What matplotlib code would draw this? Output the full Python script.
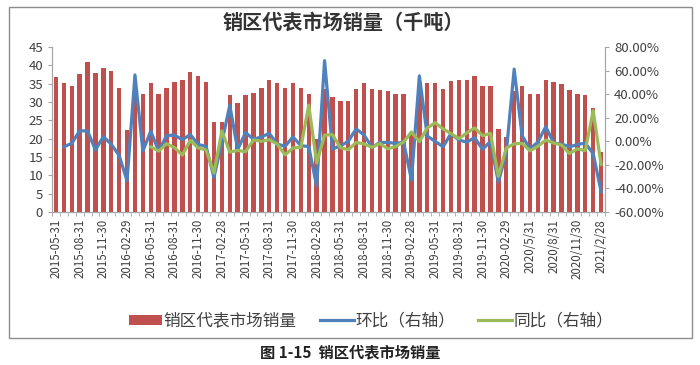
import matplotlib
matplotlib.use("Agg")
import matplotlib.pyplot as plt
from matplotlib.patches import Rectangle
import numpy as np

plt.rcParams['font.family'] = ['Noto Sans CJK SC', 'DejaVu Sans']

# monthly, 2015-05 .. 2021-02 (70 months)
months = ([f"2015-{m:02d}" for m in range(5, 13)]
          + [f"{y}-{m:02d}" for y in range(2016, 2021) for m in range(1, 13)]
          + ["2021-01", "2021-02"])

sales = [36.8, 35.1, 34.5, 37.6, 40.9, 37.9, 39.4, 38.4, 33.8, 22.5,
         35.2, 32.3, 35.1, 32.2, 33.8, 35.6, 36.1, 38.2, 37.2, 35.6,
         24.7, 24.5, 32.0, 29.8, 32.0, 32.6, 33.8, 36.1, 35.3, 33.8,
         35.1, 33.8, 32.3, 20.0, 33.7, 31.5, 30.3, 30.3, 33.5, 35.3,
         33.5, 33.2, 32.9, 32.3, 32.1, 21.6, 33.6, 35.1, 35.1, 33.5,
         35.7, 36.1, 35.9, 37.0, 34.5, 34.5, 22.6, 20.4, 32.9, 34.5,
         32.3, 32.1, 36.1, 35.6, 34.8, 33.2, 32.3, 31.8, 28.5, 16.4]

# month-on-month, % (right axis), starts 2015-06
mom = [None, -4.6, -1.7, 9.0, 8.8, -7.3, 4.0, -2.5, -12.0, -33.4,
       56.4, -8.2, 8.7, -8.3, 5.0, 5.3, 1.4, 5.8, -2.6, -4.3,
       -30.6, -0.8, 30.6, -6.9, 7.4, 1.9, 3.7, 6.8, -2.2, -4.2,
       3.8, -3.7, -4.4, -38.1, 68.5, -6.5, -3.8, 0.0, 10.6, 5.4,
       -5.1, -0.9, -0.9, -1.8, -0.6, -32.7, 55.6, 4.5, 0.0, -4.6,
       6.6, 1.1, -0.6, 3.1, -6.8, 0.0, -34.5, -9.7, 61.3, 4.9,
       -6.4, -0.6, 12.5, -1.4, -2.2, -4.6, -2.7, -1.5, -10.4, -42.5]

# year-on-year, % (right axis), starts 2016-05
yoy = [None] * 12 + [
    -4.6, -8.3, -2.0, -5.3, -11.7, 0.8, -5.6, -7.3,
    -26.9, 8.9, -9.1, -7.7, -8.8, 1.2, 0.0, 1.4, -2.2, -11.5,
    -5.6, -5.1, 30.8, -18.4, 5.3, 5.7, -5.3, -7.1, -0.9, -2.2,
    -5.1, -1.8, -6.3, -4.4, -0.6, 8.0, -0.3, 11.4, 15.8, 10.6,
    6.6, 2.3, 7.2, 11.4, 4.9, 6.8, -29.6, -5.6, -2.1, -1.7,
    -8.0, -4.2, 1.1, -1.4, -3.1, -10.3, -6.4, -7.8, 26.1, -19.6]

tick_labels = ["2015-05-31", "2015-08-31", "2015-11-30", "2016-02-29",
               "2016-05-31", "2016-08-31", "2016-11-30", "2017-02-28",
               "2017-05-31", "2017-08-31", "2017-11-30", "2018-02-28",
               "2018-05-31", "2018-08-31", "2018-11-30", "2019-02-28",
               "2019-05-31", "2019-08-31", "2019-11-30", "2020-02-29",
               "2020/5/31", "2020/8/31", "2020/11/30", "2021/2/28"]

x = np.arange(len(months))
mom_arr = np.array([np.nan if v is None else v for v in mom])
yoy_arr = np.array([np.nan if v is None else v for v in yoy])

txt = "#404040"
spine_c = "#a6a6a6"

fig = plt.figure(figsize=(7, 3.65), dpi=100)
ax = fig.add_axes([0.0743, 0.419, 0.790, 0.452])
ax2 = ax.twinx()

ax.bar(x, sales, width=0.55, color="#C0504D", label="销区代表市场销量")
ax2.plot(x, mom_arr, color="#4F81BD", lw=2.3, label="环比（右轴）")
ax2.plot(x, yoy_arr, color="#9BBB59", lw=2.3, label="同比（右轴）")

ax.set_xlim(-0.5, len(x) - 0.5)
ax.set_ylim(0, 45)
ax.set_yticks(np.arange(0, 46, 5))
ax2.set_ylim(-60, 80)
ax2.set_yticks(np.arange(-60, 81, 20))
ax2.set_yticklabels([f"{v:.2f}%" for v in np.arange(-60, 81, 20)])

ax.set_xticks(x[::3])
ax.set_xticklabels(tick_labels, rotation=90, fontsize=8.3, color=txt)
ax.set_xticks(np.arange(-0.5, len(x), 1), minor=True)
ax.tick_params(axis="x", which="major", length=0, pad=5)
ax.tick_params(axis="x", which="minor", length=3, color=spine_c)
ax.tick_params(axis="y", labelsize=9.5, colors=txt, length=3)
ax.tick_params(axis="y", color=spine_c)
ax2.tick_params(axis="y", labelsize=9.5, colors=txt, length=3)
ax2.tick_params(axis="y", color=spine_c)

for a in (ax, ax2):
    a.spines["top"].set_visible(False)
    for s in ("left", "right", "bottom"):
        a.spines[s].set_color(spine_c)

fig.text(0.49, 0.94, "销区代表市场销量（千吨）", ha="center", va="center",
         fontsize=14.5, fontweight="bold", color="#333333")

h1, l1 = ax.get_legend_handles_labels()
h2, l2 = ax2.get_legend_handles_labels()
fig.legend(h1 + h2, l1 + l2, loc="center", bbox_to_anchor=(0.53, 0.12),
           ncol=3, frameon=False, fontsize=12, labelcolor=txt,
           handlelength=2.0, handletextpad=0.1, columnspacing=1.4,
           handleheight=0.5)

fig.patches.append(Rectangle((0.013, 0.074), 0.976, 0.907, transform=fig.transFigure,
                             fill=False, edgecolor="#8c8c8c", lw=1))

fig.text(0.5, 0.035, "图 1-15  销区代表市场销量", ha="center", va="center",
         fontsize=11, fontweight="bold", color="#222222")

fig.savefig("out.png", dpi=100)
